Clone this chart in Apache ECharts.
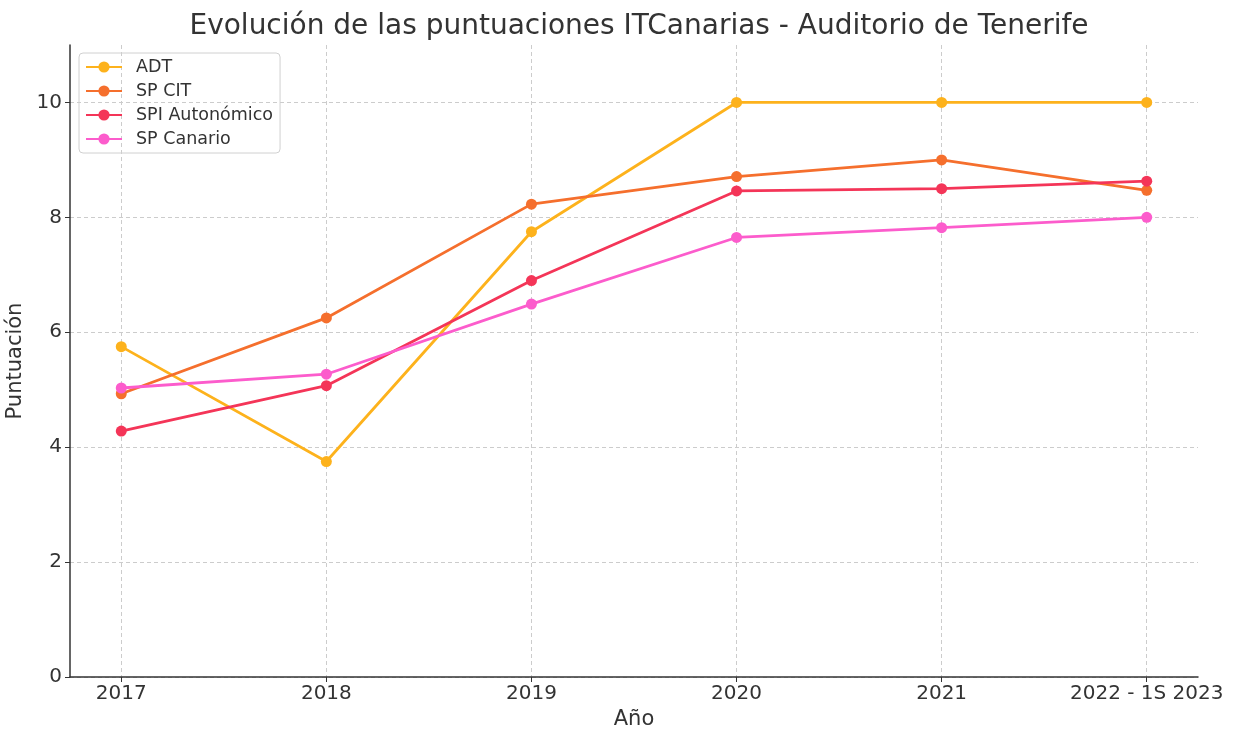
<!DOCTYPE html>
<html>
<head>
<meta charset="utf-8">
<script src="https://cdn.jsdelivr.net/npm/echarts@6/dist/echarts.min.js"></script>
<style>
  html, body { margin: 0; padding: 0; background: #fff; }
  #chart { width: 1236px; height: 731px; }
</style>
</head>
<body>
<div id="chart"></div>
<script>
const years = ['2017', '2018', '2019', '2020', '2021', '2022 - 1S 2023'];
const adt = [5.75, 3.75, 7.75, 10, 10, 10];
const spCit = [4.93, 6.25, 8.23, 8.71, 9.0, 8.47];
const spiAutonomico = [4.28, 5.07, 6.9, 8.46, 8.5, 8.63];
const spCanario = [5.03, 5.27, 6.49, 7.65, 7.82, 8.0];
const yTicks = [0, 2, 4, 6, 8, 10];

const xPositions = years.map((_, i) => i);
const font = 'DejaVu Sans, sans-serif';

function lineSeries(name, values, color) {
  return {
    name: name,
    type: 'line',
    data: values.map((v, i) => [i, v]),
    symbol: 'circle',
    symbolSize: 11,
    lineStyle: { width: 2.8, color: color },
    itemStyle: { color: color },
    emphasis: { disabled: true }
  };
}

const chart = echarts.init(document.getElementById('chart'));
chart.setOption({
  animation: false,
  title: {
    text: 'Evolución de las puntuaciones ITCanarias - Auditorio de Tenerife',
    left: 634,
    textAlign: 'center',
    top: 8,
    textStyle: { fontFamily: font, fontSize: 28, fontWeight: 'normal', color: '#333' }
  },
  legend: {
    orient: 'vertical',
    left: 79,
    top: 53,
    padding: [5, 7, 5, 6],
    itemGap: 6,
    itemWidth: 36,
    itemHeight: 14,
    borderColor: '#d0d0d0',
    borderWidth: 1,
    borderRadius: 4,
    textStyle: { fontFamily: font, fontSize: 17.5, color: '#333', padding: [0, 0, 0, 9] },
    data: ['ADT', 'SP CIT', 'SPI Autonómico', 'SP Canario']
  },
  grid: { left: 70, right: 38, top: 45, bottom: 54, outerBoundsMode: 'none' },
  xAxis: {
    type: 'value',
    min: -0.25,
    max: 5.25,
    name: 'Año',
    nameLocation: 'middle',
    nameGap: 32,
    nameTextStyle: { fontFamily: font, fontSize: 21, color: '#333' },
    axisLine: { show: true, onZero: false, lineStyle: { color: '#333', width: 1.5 } },
    axisTick: { show: true, customValues: xPositions, length: 5, lineStyle: { color: '#333' } },
    axisLabel: {
      customValues: xPositions,
      fontFamily: font, fontSize: 20, color: '#333', margin: 7,
      formatter: v => years[Math.round(v)]
    },
    splitLine: { show: true, customValues: xPositions, lineStyle: { color: '#cccccc', type: [4, 3], width: 1 } }
  },
  yAxis: {
    type: 'value',
    min: 0,
    max: 11,
    name: 'Puntuación',
    nameLocation: 'middle',
    nameGap: 38,
    nameTextStyle: { fontFamily: font, fontSize: 21, color: '#333' },
    axisLine: { show: true, onZero: false, lineStyle: { color: '#333', width: 1.5 } },
    axisTick: { show: true, customValues: yTicks, length: 5, lineStyle: { color: '#333' } },
    axisLabel: { customValues: yTicks, fontFamily: font, fontSize: 20, color: '#333', margin: 8 },
    splitLine: { show: true, customValues: yTicks, lineStyle: { color: '#cccccc', type: [4, 3], width: 1 } }
  },
  series: [
    lineSeries('ADT', adt, '#fdb21c'),
    lineSeries('SP CIT', spCit, '#f56f2d'),
    lineSeries('SPI Autonómico', spiAutonomico, '#f43558'),
    lineSeries('SP Canario', spCanario, '#fc5ccc')
  ]
});
</script>
</body>
</html>
